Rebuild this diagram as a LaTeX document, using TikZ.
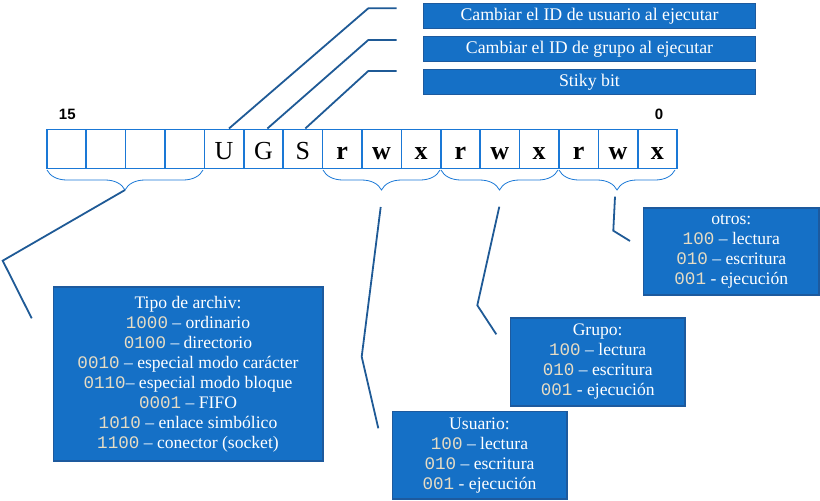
\documentclass[tikz,border=0pt]{standalone}
\usepackage{fontspec}
\setmainfont{Liberation Serif}
\setsansfont{Liberation Sans}
\setmonofont{Liberation Mono}
\usetikzlibrary{positioning, decorations.pathreplacing}

\definecolor{boxblue}{HTML}{1570C6}
\definecolor{boxedge}{HTML}{1D5A9E}
\definecolor{cellblue}{HTML}{1A78D6}
\definecolor{leadblue}{HTML}{1F5A96}
\definecolor{digitcol}{HTML}{E6DCC4}

\newcommand{\digs}[1]{{\ttfamily\color{digitcol}#1}}

\tikzset{
  bitcell/.style={draw=cellblue, line width=1.6pt, minimum width=39.4pt, minimum height=39pt,
    inner sep=0pt, text height=21pt, text depth=0pt, font=\fontsize{26}{26}\selectfont},
  flagbox/.style={draw=boxedge, fill=boxblue, line width=1.6pt, minimum width=332pt,
    minimum height=25pt, inner sep=0pt, text=white, font=\fontsize{17.8}{20}\selectfont},
  infobox/.style={draw=boxedge, fill=boxblue, line width=1.6pt, inner sep=0pt, align=center,
    text=white, font=\fontsize{17.6}{20}\selectfont},
  lead/.style={draw=leadblue, line width=1.8pt},
  bitbrace/.style={draw=cellblue, line width=0.8pt, decorate,
    decoration={brace, mirror, amplitude=20pt}},
  bitnum/.style={font=\sffamily\bfseries\fontsize{15}{16}\selectfont},
}

\begin{document}
\begin{tikzpicture}[x=1pt, y=-1pt]
  \useasboundingbox (0,0) rectangle (820,501);

  %Define nodes
  \foreach \lbl [count=\i from 0] in {{},{},{},{},U,G,S,\textbf{r},\textbf{w},\textbf{x},\textbf{r},\textbf{w},\textbf{x},\textbf{r},\textbf{w},\textbf{x}}
    \node[bitcell] (c\i) at (66.4+39.4*\i, 148.8) {\lbl};
  \node[bitnum] (hi) at (67.3,114) {15};
  \node[bitnum] (lo) at (659,114) {0};

  \node[flagbox] (suid) at (589.5,15.8) {Cambiar el ID de usuario al ejecutar};
  \node[flagbox, below=6.5pt of suid] (sgid) {Cambiar el ID de grupo al ejecutar};
  \node[flagbox, below=6.5pt of sgid] (sticky) {Stiky bit};

  \node[infobox, minimum width=269.4pt, minimum height=174pt] (tipo) at (188,374)
    {Tipo de archiv:\\ \digs{1000} – ordinario\\ \digs{0100} – directorio\\
     \digs{0010} – especial modo carácter\\ \digs{0110}– especial modo bloque\\
     \digs{0001} – FIFO\\ \digs{1010} – enlace simbólico\\ \digs{1100} – conector (socket)};
  \node[infobox, minimum width=174.4pt, minimum height=87.3pt] (usuario) at (479.5,455.3)
    {Usuario:\\ \digs{100} – lectura\\ \digs{010} – escritura\\ \digs{001} - ejecución};
  \node[infobox, minimum width=174.7pt, minimum height=88pt] (grupo) at (597.7,361.7)
    {Grupo:\\ \digs{100} – lectura\\ \digs{010} – escritura\\ \digs{001} - ejecución};
  \node[infobox, minimum width=175.3pt, minimum height=87pt] (otros) at (731.3,251.5)
    {otros:\\ \digs{100} – lectura\\ \digs{010} – escritura\\ \digs{001} - ejecución};

  % Braces under the bit groups
  \draw[bitbrace] (47,170) -- (203,170) coordinate[midway, yshift=-20pt] (tipotip);
  \draw[bitbrace] (323,170) -- (440,170);
  \draw[bitbrace] (441,170) -- (558,170);
  \draw[bitbrace] (559,170) -- (675,170);

  \coordinate (tipoend) at (31.7,318.3);
  \coordinate (usrstart) at (380.7,207);
  \coordinate (usrend) at (378.3,428.3);
  \coordinate (grpstart) at (499.3,206.7);
  \coordinate (grpend) at (496.3,334.3);
  \coordinate (othstart) at (615,196.7);
  \coordinate (othend) at (630,241);

  % Connect the nodes
  \draw[lead] ([xshift=5pt]c4.north) -- (368.3,8.3) -- ++(28.4,0);
  \draw[lead] ([xshift=4pt]c5.north) -- (368.3,40) -- ++(28.4,0);
  \draw[lead] ([xshift=2.5pt]c6.north) -- (368.3,71) -- ++(28.4,0);
  \draw[lead] (tipotip) -- (2.7,260.7) -- (tipoend);
  \draw[lead] (usrstart) -- (361.7,356.7) -- (usrend);
  \draw[lead] (grpstart) -- (477.3,305.3) -- (grpend);
  \draw[lead] (othstart) -- (613.3,230.7) -- (othend);

\end{tikzpicture}
\end{document}
